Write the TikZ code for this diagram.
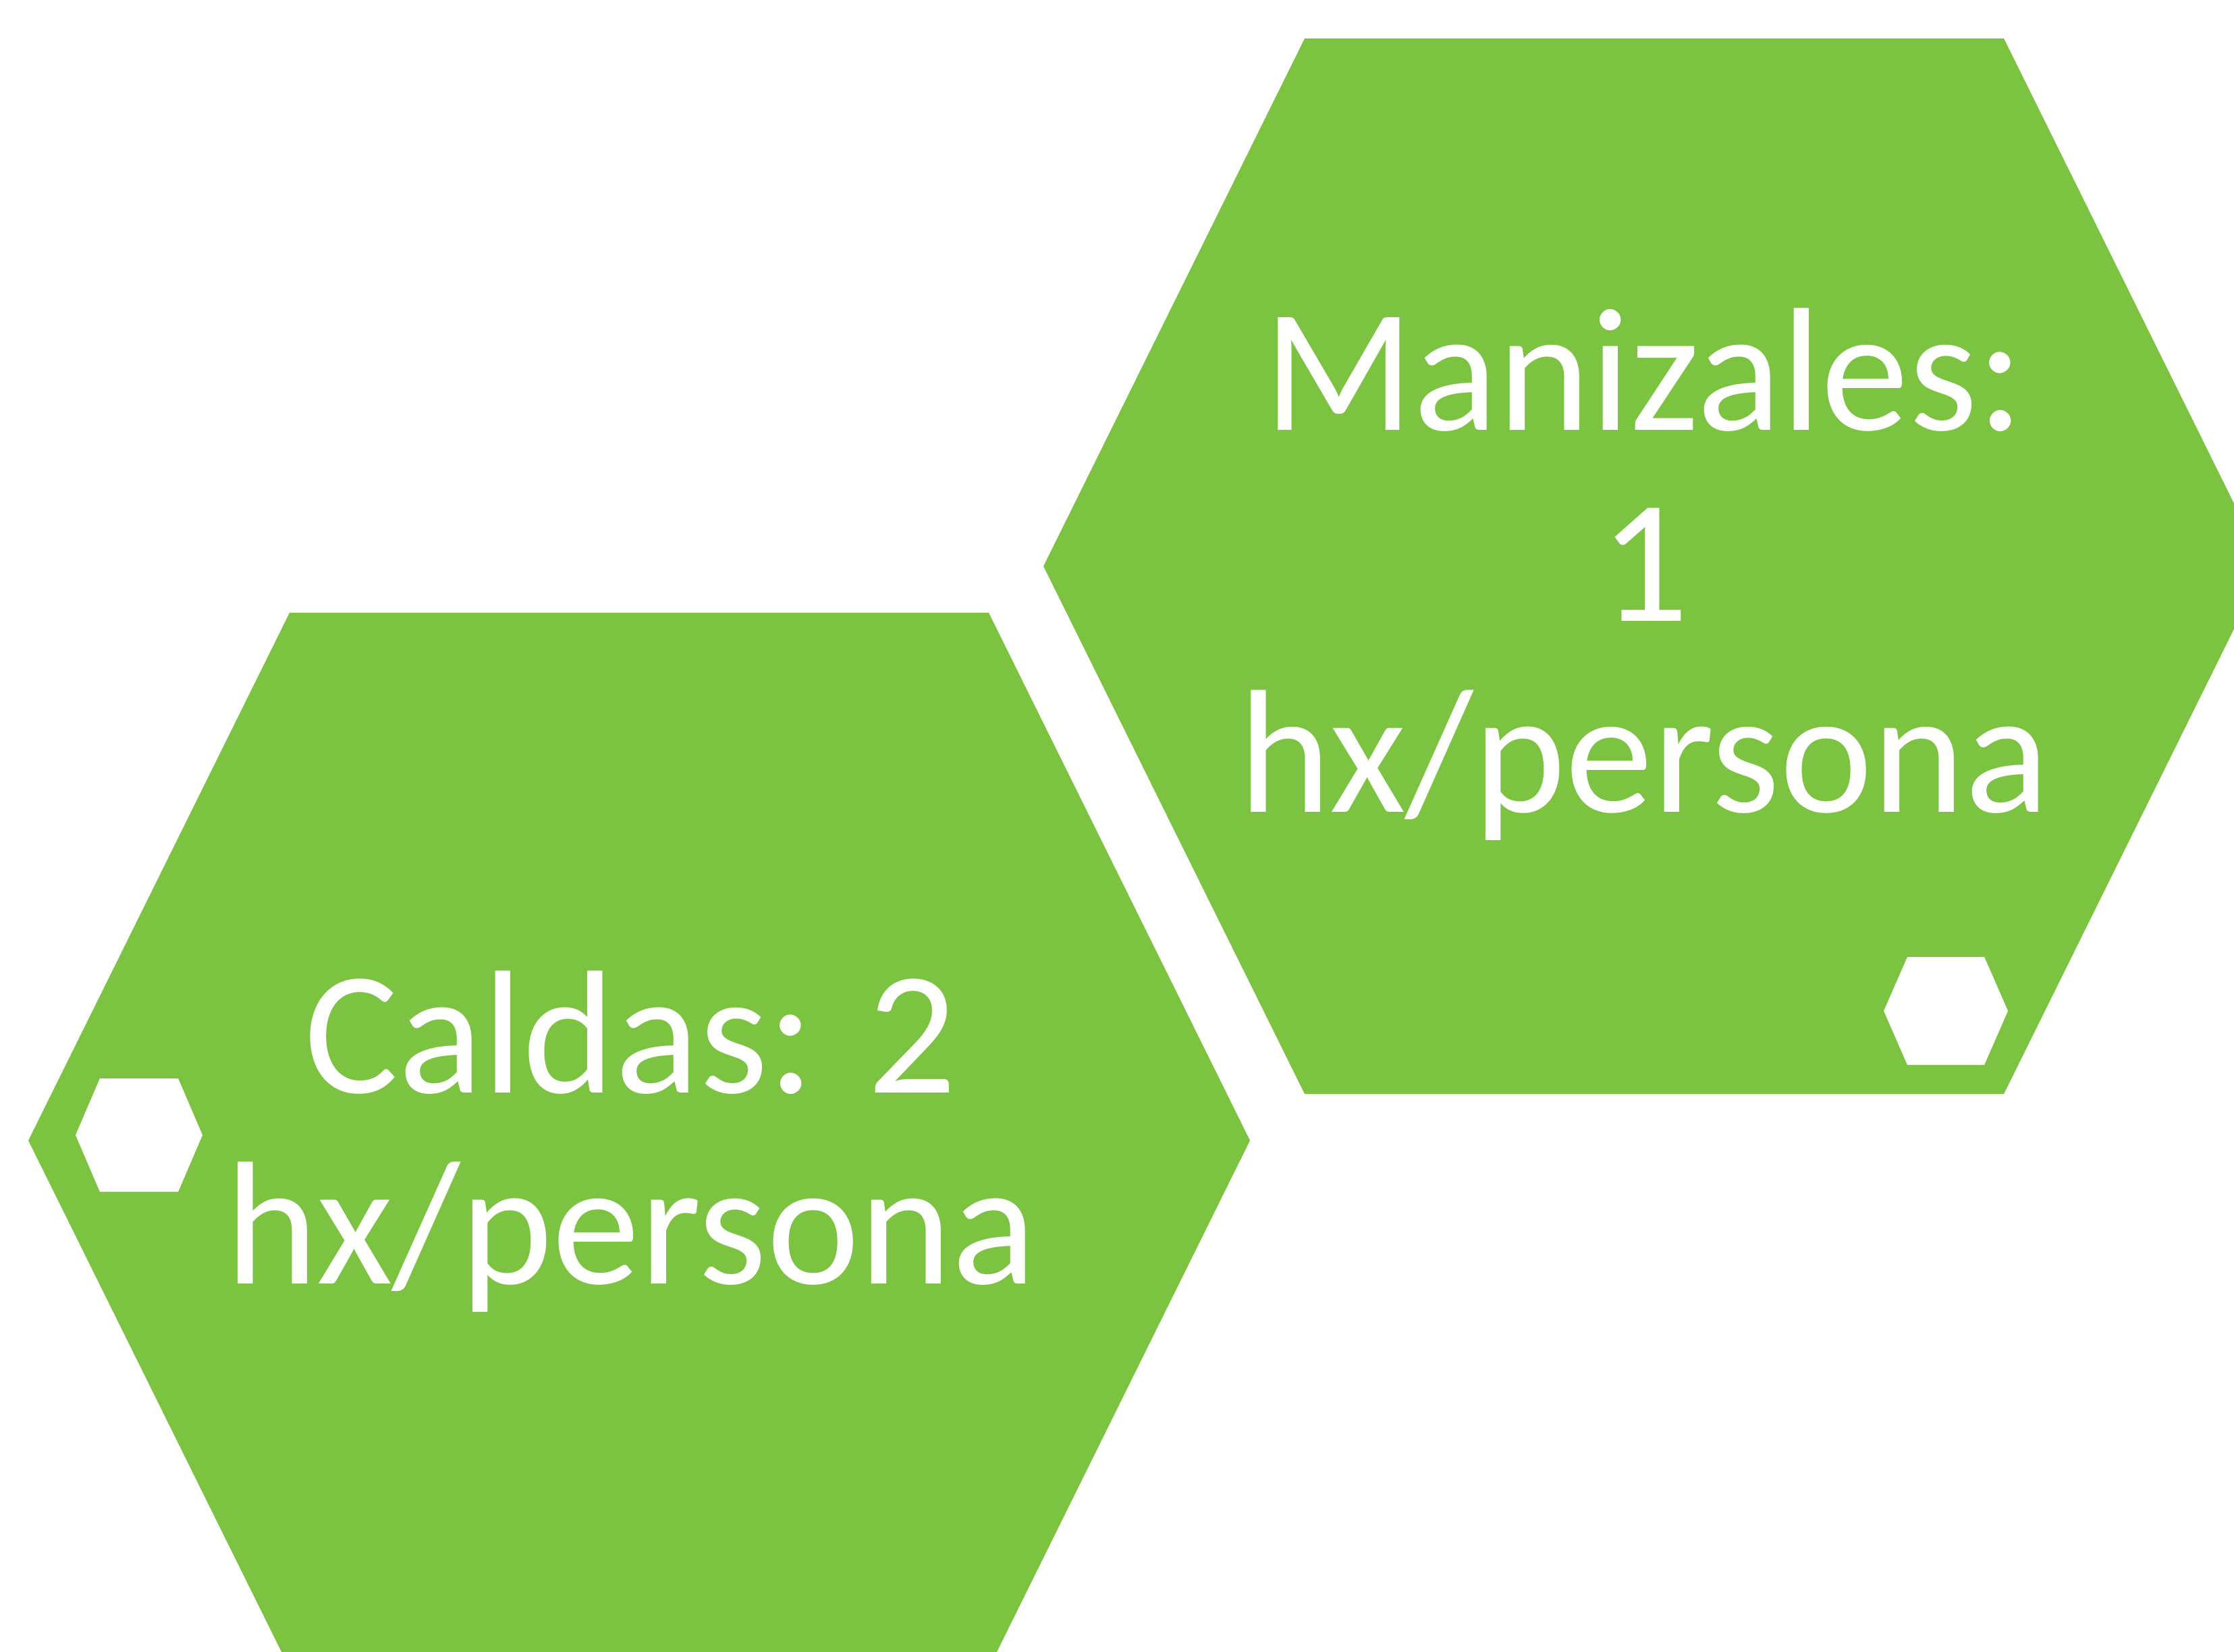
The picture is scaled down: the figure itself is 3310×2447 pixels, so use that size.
\documentclass[tikz,border=0pt]{standalone}
\usepackage{fontspec}
\setmainfont{Carlito}
\definecolor{hexgreen}{RGB}{125,195,66}
\begin{document}
\begin{tikzpicture}[x=0.01cm,y=-0.01cm]
\tikzstyle{every node}=[inner sep=0pt, text=white, align=center, font=\fontsize{74}{80.5}\selectfont]
\useasboundingbox (0,0) rectangle (3310,2447);
\clip (0,0) rectangle (3310,2447);
% big hexagons
\fill[hexgreen] (2451,839) +(905,0) -- +(518,782) -- +(-518,782) -- +(-905,0) -- +(-518,-782) -- +(518,-782) -- cycle;
\fill[hexgreen] (947,1690) +(905,0) -- +(518,782) -- +(-518,782) -- +(-905,0) -- +(-518,-782) -- +(518,-782) -- cycle;
% small white hexagons
\fill[white] (2883,1498) +(92,0) -- +(57,80) -- +(-57,80) -- +(-92,0) -- +(-57,-80) -- +(57,-80) -- cycle;
\fill[white] (206,1682) +(94,0) -- +(58,84) -- +(-58,84) -- +(-94,0) -- +(-58,-84) -- +(58,-84) -- cycle;
% labels
\node (maniz) at (2436,851) {Manizales:\\1\\hx/persona};
\node (caldas) at (935,1692) {Caldas: 2\\hx/persona};
\end{tikzpicture}
\end{document}
